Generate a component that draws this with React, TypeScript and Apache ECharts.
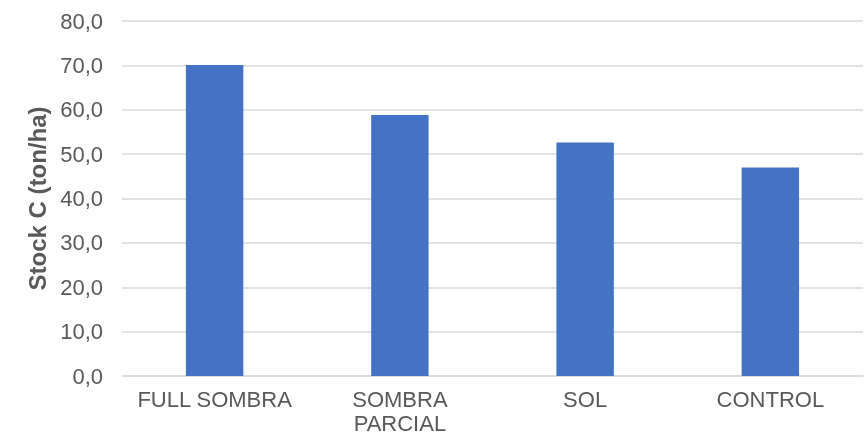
import React, { useEffect, useRef } from "react";
import * as echarts from "echarts";

const categories = ["FULL SOMBRA", "SOMBRA\nPARCIAL", "SOL", "CONTROL"];
const stockValues = [70.1, 58.8, 52.6, 47.0];
const yTicks = { min: 0, max: 80, interval: 10 };
const axisTitle = "Stock C (ton/ha)";

export default function App() {
  const ref = useRef<HTMLDivElement>(null);

  useEffect(() => {
    if (!ref.current) return;
    const chart = echarts.init(ref.current, null, { renderer: "svg" });
    const textColor = "#595959";
    const font = "Liberation Sans, Arial, sans-serif";
    chart.setOption({
      animation: false,
      grid: { left: 122, right: 3, top: 21, bottom: 60, containLabel: false },
      xAxis: {
        type: "category",
        data: categories,
        axisTick: { show: false },
        axisLine: { lineStyle: { color: "#D9D9D9", width: 1.5 } },
        axisLabel: {
          color: textColor,
          fontSize: 22,
          fontFamily: font,
          margin: 11,
          lineHeight: 24,
          interval: 0,
        },
      },
      yAxis: {
        type: "value",
        min: yTicks.min,
        max: yTicks.max,
        interval: yTicks.interval,
        name: axisTitle,
        nameLocation: "middle",
        nameGap: 70,
        nameTextStyle: {
          color: textColor,
          fontSize: 24,
          fontWeight: "bold",
          fontFamily: font,
        },
        axisLine: { show: false },
        axisTick: { show: false },
        splitLine: { lineStyle: { color: "#D9D9D9", width: 1.5 } },
        axisLabel: {
          color: textColor,
          fontSize: 22,
          fontFamily: font,
          margin: 19,
          formatter: (v: number) => v.toFixed(1).replace(".", ","),
        },
      },
      series: [
        {
          type: "bar",
          data: stockValues,
          barWidth: "31%",
          itemStyle: { color: "#4472C4" },
        },
      ],
    });
    return () => chart.dispose();
  }, []);

  return (
    <div
      ref={ref}
      style={{ position: "fixed", left: 0, top: 0, width: 866, height: 436 }}
    />
  );
}
